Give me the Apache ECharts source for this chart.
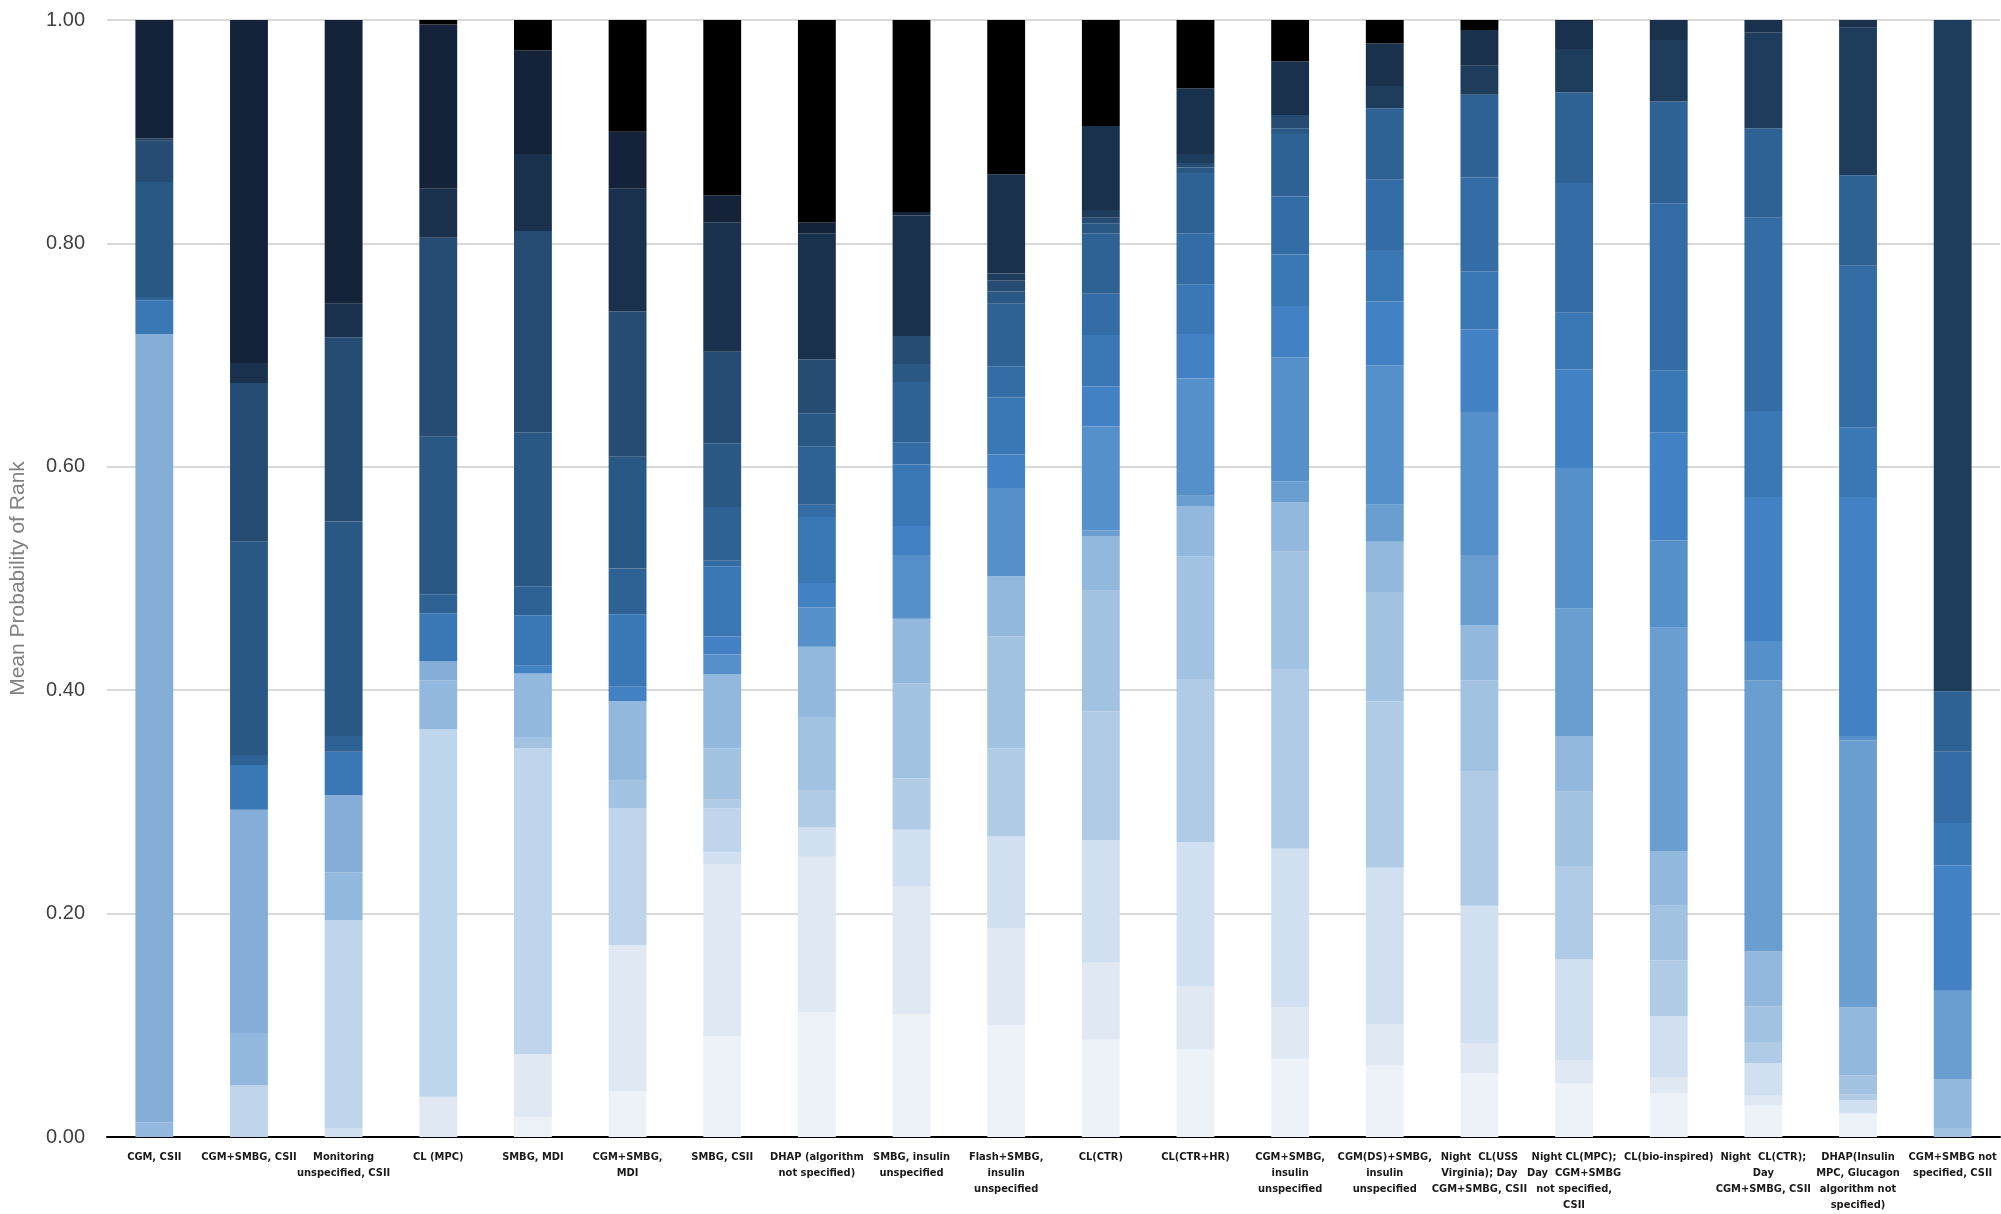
<!DOCTYPE html>
<html lang="en">
<head>
    <meta charset="utf-8">
    <style>
        html, body { margin: 0; width: 100%; height: 100%; background: #fff; overflow: hidden; }
        #rank { width: 2001px; height: 1214px; }
    </style>
</head>
<body>
<div id="rank"></div>
<script src="https://cdn.jsdelivr.net/npm/echarts@6/dist/echarts.min.js"></script>
<script>
    // treatments (x axis)
    var treatments = [
        'CGM, CSII', 'CGM+SMBG, CSII', 'Monitoring\nunspecified, CSII', 'CL (MPC)', 'SMBG, MDI',
        'CGM+SMBG,\nMDI', 'SMBG, CSII', 'DHAP (algorithm\nnot specified)', 'SMBG, insulin\nunspecified',
        'Flash+SMBG,\ninsulin\nunspecified', 'CL(CTR)', 'CL(CTR+HR)', 'CGM+SMBG,\ninsulin\nunspecified',
        'CGM(DS)+SMBG,\ninsulin\nunspecified', 'Night  CL(USS\nVirginia); Day\nCGM+SMBG, CSII',
        'Night CL(MPC);\nDay  CGM+SMBG\nnot specified,\nCSII', 'CL(bio-inspired)',
        'Night  CL(CTR);\nDay\nCGM+SMBG, CSII', 'DHAP(Insulin\nMPC, Glucagon\nalgorithm not\nspecified)',
        'CGM+SMBG not\nspecified, CSII'
    ];

    // probability of rank 1..20 for each treatment
    var cgmCsii        = [0,0,0,0,0,0,0.013,0.706,0,0,0,0.030,0,0.003,0.103,0.037,0.002,0,0.106,0];
    var cgmSmbgCsii    = [0,0,0,0.046,0,0,0.047,0.200,0,0,0,0.040,0,0.009,0.191,0.142,0,0.018,0.307,0];
    var monitorCsii    = [0,0,0.008,0.186,0,0,0.043,0.069,0,0,0,0.039,0,0.014,0.192,0.165,0,0.030,0.254,0];
    var clMpc          = [0,0.036,0,0.329,0,0,0.044,0.017,0,0,0,0.043,0,0.017,0.141,0.178,0,0.044,0.147,0.004];
    var smbgMdi        = [0.018,0.056,0,0.274,0,0.010,0.057,0,0,0,0.007,0.045,0,0.026,0.138,0.180,0,0.069,0.093,0.027];
    var cgmSmbgMdi     = [0.041,0.131,0,0.122,0,0.025,0.071,0,0,0,0.013,0.065,0,0.041,0.100,0.130,0,0.110,0.051,0.100];
    var smbgCsii       = [0.090,0.154,0.011,0.039,0.008,0.046,0.066,0,0,0.018,0.016,0.063,0.005,0.048,0.057,0.082,0,0.116,0.024,0.157];
    var dhap           = [0.112,0.139,0.026,0,0.033,0.066,0.063,0,0,0.035,0.022,0.059,0.011,0.052,0.030,0.048,0,0.113,0.010,0.181];
    var smbgInsulin    = [0.110,0.114,0.051,0,0.046,0.085,0.058,0,0,0.057,0.026,0.055,0.020,0.054,0.016,0.025,0,0.108,0.003,0.172];
    var flashSmbg      = [0.100,0.087,0.082,0,0.079,0.100,0.054,0,0,0.079,0.030,0.051,0.028,0.056,0.011,0.010,0.006,0.089,0,0.138];
    var clCtr          = [0.087,0.069,0.110,0,0.115,0.108,0.049,0,0.005,0.093,0.036,0.046,0.037,0.054,0.009,0.005,0.007,0.075,0,0.095];
    var clCtrHr        = [0.078,0.057,0.129,0,0.146,0.110,0.045,0,0.009,0.105,0.040,0.044,0.046,0.054,0.005,0.004,0.008,0.059,0,0.061];
    var cgmSmbgIns     = [0.070,0.046,0.142,0,0.161,0.105,0.044,0,0.019,0.111,0.046,0.046,0.052,0.056,0.005,0.012,0,0.048,0,0.037];
    var cgmDsSmbgIns   = [0.064,0.037,0.140,0,0.149,0.098,0.045,0,0.033,0.125,0.057,0.046,0.063,0.064,0,0,0.020,0.038,0,0.021];
    var nightUss       = [0.057,0.027,0.123,0,0.120,0.082,0.049,0,0.063,0.128,0.074,0.052,0.084,0.074,0,0,0.026,0.032,0,0.009];
    var nightMpc       = [0.048,0.021,0.090,0,0.083,0.067,0.050,0,0.114,0.126,0.088,0.051,0.116,0.081,0,0,0.039,0.025,0.001,0];
    var clBio          = [0.039,0.014,0.055,0,0.050,0.049,0.049,0,0.200,0.078,0.097,0.055,0.150,0.091,0,0,0.055,0.018,0,0];
    var nightCtr       = [0.028,0.009,0.029,0,0.019,0.032,0.049,0,0.243,0.035,0.129,0.077,0.173,0.080,0,0,0.086,0.011,0,0];
    var dhapMpc        = [0.021,0,0.012,0,0.005,0.017,0.061,0,0.239,0.004,0.214,0.062,0.145,0.081,0,0,0.132,0.007,0,0];
    var cgmSmbgNs      = [0,0,0,0,0,0.008,0.044,0,0.079,0,0.112,0.038,0.064,0.054,0,0,0.601,0,0,0];

    var rankColors = [
        '#EDF2F9', '#DFE8F3', '#D0E0F0', '#BED5EB', '#B0CBE5', '#A2C2E1', '#93B8DE', '#84ADD7', '#6A9ED0', '#5590CA',
        '#4282C4', '#3A78B5', '#346CA6', '#2E6194', '#2A5885', '#264C74', '#1E3D5C', '#19314C', '#14233A', '#000000'
    ];

    var perTreatment = [cgmCsii, cgmSmbgCsii, monitorCsii, clMpc, smbgMdi, cgmSmbgMdi, smbgCsii, dhap, smbgInsulin,
        flashSmbg, clCtr, clCtrHr, cgmSmbgIns, cgmDsSmbgIns, nightUss, nightMpc, clBio, nightCtr, dhapMpc, cgmSmbgNs];

    var series = [];
    for (var r = 0; r < 20; r++) {
        series.push({
            name: 'Rank ' + (r + 1),
            type: 'bar',
            stack: 'rank',
            barWidth: '40%',
            itemStyle: {color: rankColors[r]},
            data: perTreatment.map(function (t) { return t[r]; })
        });
    }

    var chart = echarts.init(document.getElementById('rank'));
    chart.setOption({
        animation: false,
        grid: {left: 107, right: 1, top: 20, bottom: 77},
        xAxis: {
            type: 'category',
            data: treatments,
            axisTick: {show: false},
            axisLine: {lineStyle: {color: '#000', width: 2}},
            axisLabel: {
                interval: 0,
                margin: 12,
                color: '#1a1a1a',
                fontSize: 11,
                fontWeight: 'bold',
                lineHeight: 16,
                fontFamily: '"Liberation Sans Narrow", "DejaVu Sans Condensed", "Liberation Sans", sans-serif'
            }
        },
        yAxis: {
            type: 'value',
            min: 0,
            max: 1,
            interval: 0.2,
            name: 'Mean Probability of Rank',
            nameLocation: 'middle',
            nameGap: 78,
            nameTextStyle: {color: '#808080', fontSize: 21, fontFamily: '"Liberation Sans", sans-serif'},
            axisLine: {show: false},
            axisTick: {show: false},
            splitLine: {lineStyle: {color: '#D9D9D9', width: 2}},
            axisLabel: {
                margin: 22,
                color: '#404040',
                fontSize: 20,
                fontFamily: '"Liberation Sans Narrow", "Liberation Sans", sans-serif',
                formatter: function (v) { return v.toFixed(2); }
            }
        },
        series: series
    });
</script>
</body>
</html>
